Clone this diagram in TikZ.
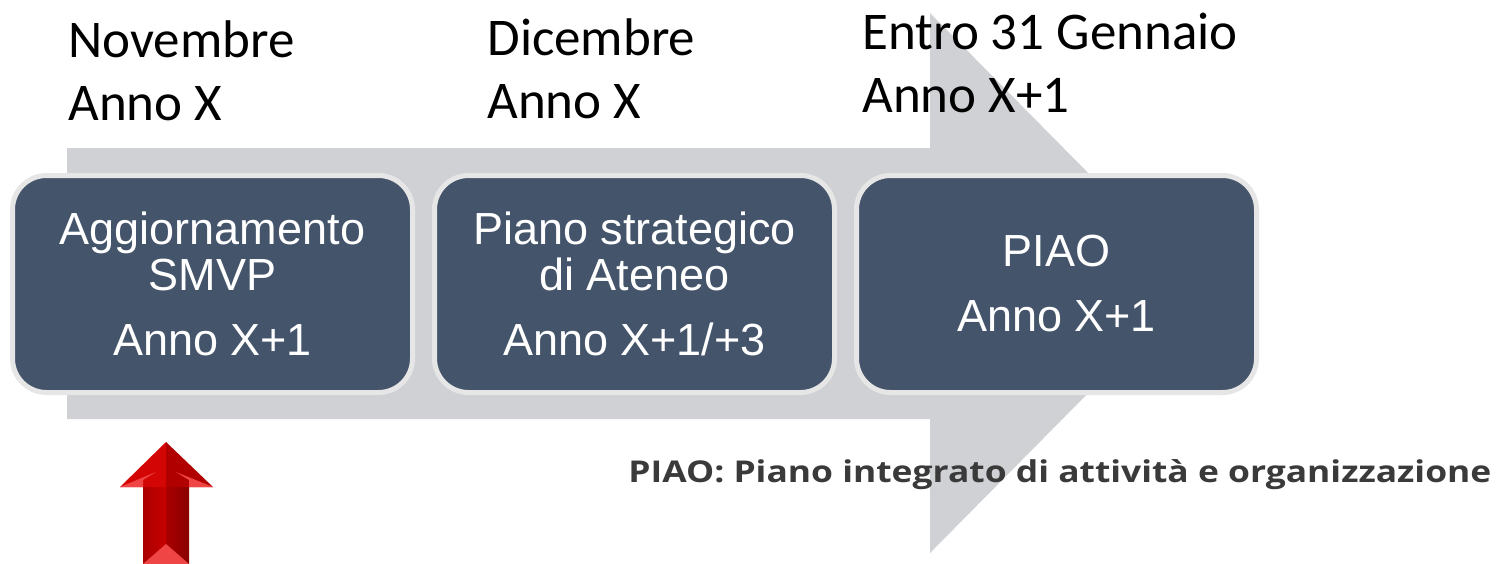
\documentclass[tikz,border=0pt]{standalone}
\usepackage{fontspec}
\setmainfont{Liberation Sans}
\newfontfamily\calfont{Carlito}
\newfontfamily\segfont{Open Sans}
\definecolor{arrowgray}{HTML}{D0D1D5}
\definecolor{boxfill}{HTML}{44546A}
\definecolor{boxline}{HTML}{E6E6E6}
\definecolor{notegray}{HTML}{3A3A3A}
\definecolor{redlight}{HTML}{F04545}
\definecolor{redmid}{HTML}{C80000}
\definecolor{reddark}{HTML}{A00000}
\definecolor{redhead}{HTML}{D40505}
\definecolor{redheaddark}{HTML}{B00000}
\begin{document}
\begin{tikzpicture}[x=0.5pt,y=-0.5pt,
  stagebox/.style={draw=boxline, line width=2.5pt, fill=boxfill, rounded corners=17pt,
    minimum width=200pt, minimum height=108.5pt, text=white, align=center,
    font=\fontsize{22.5}{23}\selectfont, inner sep=0pt},
  datelabel/.style={anchor=base west, align=left, inner sep=0pt,
    font=\calfont\fontsize{26.5}{31.5}\selectfont},
  notelabel/.style={anchor=base west, inner sep=0pt, text=notegray,
    font=\segfont\bfseries\fontsize{15}{17}\selectfont}
]
\useasboundingbox (0,0) rectangle (1499,563);
% big grey timeline arrow
\fill[arrowgray] (67,148) -- (930,148) -- (930,13) -- (1197,283) -- (930,553)
  -- (930,419) -- (67,419) -- cycle;
% stages
\node[stagebox] (b1) at (212.5,284) {Aggiornamento\\SMVP\\[9.5pt]Anno X+1};
\node[stagebox] (b2) at (634.5,284) {Piano strategico\\di Ateneo\\[9.5pt]Anno X+1/+3};
\node[stagebox] (b3) at (1056.5,284) {PIAO\\[9.5pt]Anno X+1};
% date labels (base anchor = last line)
\node[datelabel] (l1) at (68,120) {Novembre\\Anno X};
\node[datelabel] (l2) at (487,118) {Dicembre\\Anno X};
\node[datelabel] (l3) at (862,112) {Entro 31 Gennaio\\Anno X+1};
% note
\node[notelabel] (note) at (628,482) {\scalebox{1.18}[1]{PIAO: Piano integrato di attività e organizzazione}};
% red arrow
\shade[left color=redmid!85!black, right color=redmid] (143,487) rectangle (166,564);
\shade[left color=reddark!90!red, right color=reddark!85!black] (166,487) rectangle (189,564);
\fill[redhead] (166,442) -- (120,487) -- (166,487) -- cycle;
\fill[redheaddark] (166,442) -- (213,487) -- (166,487) -- cycle;
\fill[redlight] (120,487) -- (156,472) -- (143,480) -- (143,487) -- cycle;
\fill[redlight] (213,487) -- (176,472) -- (189,480) -- (189,487) -- cycle;
\fill[redlight] (143,564) -- (166,544) -- (189,564) -- cycle;
\end{tikzpicture}
\end{document}
